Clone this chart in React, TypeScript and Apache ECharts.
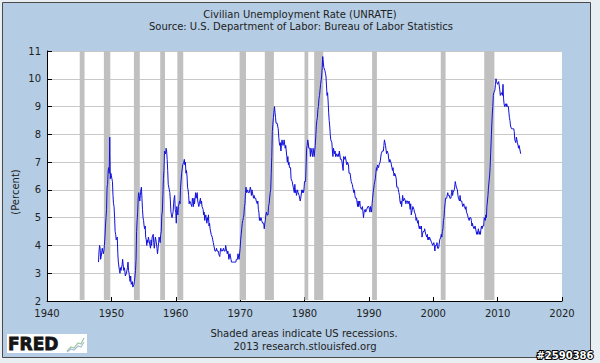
import React, { useEffect, useRef } from "react";
import * as echarts from "echarts";

// ---- Data (monthly, seasonally adjusted civilian unemployment rate, %) ----
const startYear = 1948;
const rates1940s = [
  3.4, 3.8, 4.0, 3.9, 3.5, 3.6, 3.6, 3.9, 3.8, 3.7, 3.8, 4.0,
  4.3, 4.7, 5.0, 5.3, 6.1, 6.2, 6.7, 6.8, 6.6, 7.9, 6.4, 6.6,
];
const rates1950s = [
  6.5, 6.4, 6.3, 5.8, 5.5, 5.4, 5.0, 4.5, 4.4, 4.2, 4.2, 4.3,
  3.7, 3.4, 3.4, 3.1, 3.0, 3.2, 3.1, 3.1, 3.3, 3.5, 3.5, 3.1,
  3.2, 3.1, 2.9, 2.9, 3.0, 3.0, 3.2, 3.4, 3.1, 3.0, 2.8, 2.7,
  2.9, 2.6, 2.6, 2.7, 2.5, 2.5, 2.6, 2.7, 2.9, 3.1, 3.5, 4.5,
  4.9, 5.2, 5.7, 5.9, 5.9, 5.6, 5.8, 6.0, 6.1, 5.7, 5.3, 5.0,
  4.9, 4.7, 4.6, 4.7, 4.3, 4.2, 4.0, 4.2, 4.1, 4.3, 4.2, 4.2,
  4.0, 3.9, 4.2, 4.0, 4.3, 4.3, 4.4, 4.1, 3.9, 3.9, 4.3, 4.2,
  4.2, 3.9, 3.7, 3.9, 4.1, 4.3, 4.2, 4.1, 4.4, 4.5, 5.1, 5.2,
  5.8, 6.4, 6.7, 7.4, 7.4, 7.3, 7.5, 7.4, 7.1, 6.7, 6.2, 6.2,
  6.0, 5.9, 5.6, 5.2, 5.1, 5.0, 5.1, 5.2, 5.5, 5.7, 5.8, 5.3,
];
const rates1960s = [
  5.2, 4.8, 5.4, 5.2, 5.1, 5.4, 5.5, 5.6, 5.5, 6.1, 6.1, 6.6,
  6.6, 6.9, 6.9, 7.0, 7.1, 6.9, 7.0, 6.6, 6.7, 6.5, 6.1, 6.0,
  5.8, 5.5, 5.6, 5.6, 5.5, 5.5, 5.4, 5.7, 5.6, 5.4, 5.7, 5.5,
  5.7, 5.9, 5.7, 5.7, 5.9, 5.6, 5.6, 5.4, 5.5, 5.5, 5.7, 5.5,
  5.6, 5.4, 5.4, 5.3, 5.1, 5.2, 4.9, 5.0, 5.1, 5.1, 4.8, 5.0,
  4.9, 5.1, 4.7, 4.8, 4.6, 4.6, 4.4, 4.4, 4.3, 4.2, 4.1, 4.0,
  4.0, 3.8, 3.8, 3.8, 3.9, 3.8, 3.8, 3.8, 3.7, 3.7, 3.6, 3.8,
  3.9, 3.8, 3.8, 3.8, 3.8, 3.9, 3.8, 3.8, 3.8, 4.0, 3.9, 3.8,
  3.7, 3.8, 3.7, 3.5, 3.5, 3.7, 3.7, 3.5, 3.4, 3.4, 3.4, 3.4,
  3.4, 3.4, 3.4, 3.4, 3.4, 3.5, 3.5, 3.5, 3.7, 3.7, 3.5, 3.5,
];
const rates1970s = [
  3.9, 4.2, 4.4, 4.6, 4.8, 4.9, 5.0, 5.1, 5.4, 5.5, 5.9, 6.1,
  5.9, 5.9, 6.0, 5.9, 5.9, 5.9, 6.0, 6.1, 6.0, 5.8, 6.0, 6.0,
  5.8, 5.7, 5.8, 5.7, 5.7, 5.7, 5.6, 5.6, 5.5, 5.6, 5.3, 5.2,
  4.9, 5.0, 4.9, 5.0, 4.9, 4.9, 4.8, 4.8, 4.8, 4.6, 4.8, 4.9,
  5.1, 5.2, 5.1, 5.1, 5.1, 5.4, 5.5, 5.5, 5.9, 6.0, 6.6, 7.2,
  8.1, 8.1, 8.6, 8.8, 9.0, 8.8, 8.6, 8.4, 8.4, 8.4, 8.3, 8.2,
  7.9, 7.7, 7.6, 7.7, 7.4, 7.6, 7.8, 7.8, 7.6, 7.7, 7.8, 7.8,
  7.5, 7.6, 7.4, 7.2, 7.0, 7.2, 6.9, 7.0, 6.8, 6.8, 6.8, 6.4,
  6.4, 6.3, 6.3, 6.1, 6.0, 5.9, 6.2, 5.9, 6.0, 5.8, 5.9, 6.0,
  5.9, 5.9, 5.8, 5.8, 5.6, 5.7, 5.7, 6.0, 5.9, 6.0, 5.9, 6.0,
];
const rates1980s = [
  6.3, 6.3, 6.3, 6.9, 7.5, 7.6, 7.8, 7.7, 7.5, 7.5, 7.5, 7.2,
  7.5, 7.4, 7.4, 7.2, 7.5, 7.5, 7.2, 7.4, 7.6, 7.9, 8.3, 8.5,
  8.6, 8.9, 9.0, 9.3, 9.4, 9.6, 9.8, 9.8, 10.1, 10.4, 10.8, 10.8,
  10.4, 10.4, 10.3, 10.2, 10.1, 10.1, 9.4, 9.5, 9.2, 8.8, 8.5, 8.3,
  8.0, 7.8, 7.8, 7.7, 7.4, 7.2, 7.5, 7.5, 7.3, 7.4, 7.2, 7.3,
  7.3, 7.2, 7.2, 7.3, 7.2, 7.4, 7.4, 7.1, 7.1, 7.1, 7.0, 7.0,
  6.7, 7.2, 7.2, 7.1, 7.2, 7.2, 7.0, 6.9, 7.0, 7.0, 6.9, 6.6,
  6.6, 6.6, 6.6, 6.3, 6.3, 6.2, 6.1, 6.0, 5.9, 6.0, 5.8, 5.7,
  5.7, 5.7, 5.7, 5.4, 5.6, 5.4, 5.4, 5.6, 5.4, 5.4, 5.3, 5.3,
  5.4, 5.2, 5.0, 5.2, 5.2, 5.3, 5.2, 5.2, 5.3, 5.3, 5.4, 5.4,
];
const rates1990s = [
  5.4, 5.3, 5.2, 5.4, 5.4, 5.2, 5.5, 5.7, 5.9, 5.9, 6.2, 6.3,
  6.4, 6.6, 6.8, 6.7, 6.9, 6.9, 6.8, 6.9, 6.9, 7.0, 7.0, 7.3,
  7.3, 7.4, 7.4, 7.4, 7.6, 7.8, 7.7, 7.6, 7.6, 7.3, 7.4, 7.4,
  7.3, 7.1, 7.0, 7.1, 7.1, 7.0, 6.9, 6.8, 6.7, 6.8, 6.6, 6.5,
  6.6, 6.6, 6.5, 6.4, 6.1, 6.1, 6.1, 6.0, 5.9, 5.8, 5.6, 5.5,
  5.6, 5.4, 5.4, 5.8, 5.6, 5.6, 5.7, 5.7, 5.6, 5.5, 5.6, 5.6,
  5.6, 5.5, 5.5, 5.6, 5.6, 5.3, 5.5, 5.1, 5.2, 5.2, 5.4, 5.4,
  5.3, 5.2, 5.2, 5.1, 4.9, 5.0, 4.9, 4.8, 4.9, 4.7, 4.6, 4.7,
  4.6, 4.6, 4.7, 4.3, 4.4, 4.5, 4.5, 4.5, 4.6, 4.5, 4.4, 4.4,
  4.3, 4.4, 4.2, 4.3, 4.2, 4.3, 4.3, 4.2, 4.2, 4.1, 4.1, 4.0,
];
const rates2000s = [
  4.0, 4.1, 4.0, 3.8, 4.0, 4.0, 4.0, 4.1, 3.9, 3.9, 3.9, 3.9,
  4.2, 4.2, 4.3, 4.4, 4.3, 4.5, 4.6, 4.9, 5.0, 5.3, 5.5, 5.7,
  5.7, 5.7, 5.7, 5.9, 5.8, 5.8, 5.8, 5.7, 5.7, 5.7, 5.9, 6.0,
  5.8, 5.9, 5.9, 6.0, 6.1, 6.3, 6.2, 6.1, 6.1, 6.0, 5.8, 5.7,
  5.7, 5.6, 5.8, 5.6, 5.6, 5.6, 5.5, 5.4, 5.4, 5.5, 5.4, 5.4,
  5.3, 5.4, 5.2, 5.2, 5.1, 5.0, 5.0, 4.9, 5.0, 5.0, 5.0, 4.9,
  4.7, 4.8, 4.7, 4.7, 4.6, 4.6, 4.7, 4.7, 4.5, 4.4, 4.5, 4.4,
  4.6, 4.5, 4.4, 4.5, 4.4, 4.6, 4.7, 4.6, 4.7, 4.7, 4.7, 5.0,
  5.0, 4.9, 5.1, 5.0, 5.4, 5.6, 5.8, 6.1, 6.1, 6.5, 6.8, 7.3,
  7.8, 8.3, 8.7, 9.0, 9.4, 9.5, 9.5, 9.6, 9.8, 10.0, 9.9, 9.9,
];
const rates2010s = [
  9.8, 9.8, 9.9, 9.9, 9.6, 9.4, 9.4, 9.5, 9.5, 9.4, 9.8, 9.3,
  9.1, 9.0, 9.0, 9.1, 9.0, 9.1, 9.0, 9.0, 9.0, 8.8, 8.6, 8.5,
  8.3, 8.3, 8.2, 8.2, 8.2, 8.2, 8.2, 8.1, 7.8, 7.8, 7.7, 7.9,
  7.9, 7.7, 7.6, 7.5, 7.6, 7.6, 7.4, 7.3,
];

// NBER recessions, peak month to trough month: [year, month(1-12)]
const recessionStarts = [
  [1945, 2], [1948, 11], [1953, 7], [1957, 8], [1960, 4], [1969, 12],
  [1973, 11], [1980, 1], [1981, 7], [1990, 7], [2001, 3], [2007, 12],
];
const recessionEnds = [
  [1945, 10], [1949, 10], [1954, 5], [1958, 4], [1961, 2], [1970, 11],
  [1975, 3], [1980, 7], [1982, 11], [1991, 3], [2001, 11], [2009, 6],
];

const xTicks = { min: 1940, max: 2020, interval: 10 };
const yTicks = { min: 2, max: 11, interval: 1 };

const titleText = "Civilian Unemployment Rate (UNRATE)";
const subtitleText = "Source: U.S. Department of Labor: Bureau of Labor Statistics";
const yAxisTitle = "(Percent)";
const footnote1 = "Shaded areas indicate US recessions.";
const footnote2 = "2013 research.stlouisfed.org";
const logoText = "FRED";
const graphId = "#2590386";

const FONT = "DejaVu Sans";

export default function App() {
  const ref = useRef<HTMLDivElement>(null);

  useEffect(() => {
    if (!ref.current) return;
    const chart = echarts.init(ref.current, null, { renderer: "svg" });

    const allRates = [
      ...rates1940s, ...rates1950s, ...rates1960s, ...rates1970s,
      ...rates1980s, ...rates1990s, ...rates2000s, ...rates2010s,
    ];
    const lineData = allRates.map((v, i) => [startYear + i / 12, v]);
    const recData = recessionStarts.map((s, i) => [
      s[0] + (s[1] - 1) / 12,
      recessionEnds[i][0] + recessionEnds[i][1] / 12,
    ]);

    const option: any = {
      animation: false,
      backgroundColor: "transparent",
      grid: {
        left: 47,
        right: 38,
        top: 51,
        bottom: 62,
        show: true,
        backgroundColor: "#ffffff",
        borderWidth: 0,
      },
      xAxis: {
        type: "value",
        min: xTicks.min,
        max: xTicks.max,
        interval: xTicks.interval,
        axisLine: { show: true, onZero: false, lineStyle: { color: "#000", width: 1 } },
        axisTick: { show: true, inside: true, length: 4, lineStyle: { color: "#000" } },
        splitLine: { show: false },
        axisLabel: {
          color: "#222",
          fontFamily: FONT,
          fontSize: 10,
          margin: 7,
          formatter: (v: number) => String(v),
        },
      },
      yAxis: {
        type: "value",
        min: yTicks.min,
        max: yTicks.max,
        interval: yTicks.interval,
        axisLine: { show: true, lineStyle: { color: "#000", width: 1 } },
        axisTick: { show: true, inside: true, length: 5, lineStyle: { color: "#000" } },
        splitLine: { show: true, lineStyle: { color: "#c8c8c8", width: 1 } },
        axisLabel: {
          color: "#222",
          fontFamily: FONT,
          fontSize: 10,
          margin: 6,
        },
      },
      series: [
        {
          type: "custom",
          z: 1,
          silent: true,
          data: recData,
          renderItem: (params: any, api: any) => {
            const p0 = api.coord([api.value(0), yTicks.max]);
            const p1 = api.coord([api.value(1), yTicks.min]);
            return {
              type: "rect",
              shape: { x: p0[0], y: p0[1], width: p1[0] - p0[0], height: p1[1] - p0[1] - 1 },
              style: { fill: "#c0c0c0" },
            };
          },
        },
        {
          type: "line",
          z: 3,
          data: lineData,
          showSymbol: false,
          symbol: "none",
          lineStyle: { color: "#1010dc", width: 1 },
        },
      ],
      graphic: [
        {
          type: "rect",
          z: -10,
          shape: { x: 2.5, y: 2.5, width: 588, height: 355 },
          style: { fill: "#b4cde4", stroke: "#4a4a4a", lineWidth: 1 },
        },
        {
          type: "text",
          x: 300,
          y: 14,
          style: {
            text: titleText,
            font: `10px "${FONT}"`,
            fill: "#222",
            align: "center",
            verticalAlign: "middle",
          },
        },
        {
          type: "text",
          x: 301,
          y: 26,
          style: {
            text: subtitleText,
            font: `10px "${FONT}"`,
            fill: "#222",
            align: "center",
            verticalAlign: "middle",
          },
        },
        {
          type: "text",
          x: 15,
          y: 192,
          rotation: Math.PI / 2,
          style: {
            text: yAxisTitle,
            font: `10px "${FONT}"`,
            fill: "#222",
            align: "center",
            verticalAlign: "middle",
          },
        },
        {
          type: "text",
          x: 304,
          y: 333,
          style: {
            text: footnote1,
            font: `10px "${FONT}"`,
            fill: "#222",
            align: "center",
            verticalAlign: "middle",
          },
        },
        {
          type: "text",
          x: 305,
          y: 346,
          style: {
            text: footnote2,
            font: `10px "${FONT}"`,
            fill: "#222",
            align: "center",
            verticalAlign: "middle",
          },
        },
        {
          type: "rect",
          shape: { x: 7, y: 334, width: 80, height: 19 },
          style: { fill: "#ffffff" },
        },
        {
          type: "text",
          x: 8,
          y: 344,
          style: {
            text: logoText,
            font: `bold 17px "${FONT}"`,
            fill: "#151515",
            stroke: "#151515",
            lineWidth: 0.8,
            align: "left",
            verticalAlign: "middle",
          },
        },
        {
          type: "polyline",
          shape: { points: [[67, 351], [71, 347], [74, 348], [78, 343], [81, 344], [84, 338]] },
          style: { stroke: "#9fc79f", lineWidth: 1.2, fill: null },
        },
        {
          type: "polyline",
          shape: { points: [[67, 352], [71, 349], [74, 350], [78, 346], [81, 347], [84, 342]] },
          style: { stroke: "#a9bfd6", lineWidth: 1.2, fill: null },
        },
        {
          type: "text",
          x: 565,
          y: 355,
          style: {
            text: graphId,
            font: `bold 10px "${FONT}"`,
            fill: "#ffffff",
            stroke: "#000000",
            lineWidth: 2,
            align: "center",
            verticalAlign: "middle",
          },
        },
      ],
    };

    chart.setOption(option);
    return () => chart.dispose();
  }, []);

  return (
    <div
      style={{
        position: "fixed",
        left: 0,
        top: 0,
        width: 600,
        height: 363,
        background: "#e9eef2",
      }}
    >
      <div ref={ref} style={{ width: 600, height: 363 }} />
    </div>
  );
}
